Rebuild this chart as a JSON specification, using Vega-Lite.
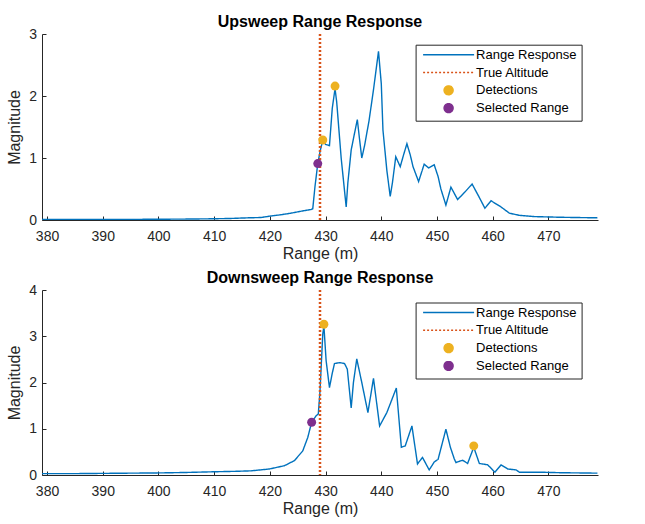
{
  "$schema": "https://vega.github.io/schema/vega-lite/v6.json",
  "padding": {"left": 6, "top": 14, "right": 10, "bottom": 4},
  "datasets": {
    "up": [
      {"r": 379.1, "m": 0.01}, {"r": 385, "m": 0.01}, {"r": 390, "m": 0.01}, {"r": 395, "m": 0.01},
      {"r": 400, "m": 0.012}, {"r": 405, "m": 0.015}, {"r": 410, "m": 0.02}, {"r": 413, "m": 0.025},
      {"r": 416, "m": 0.035}, {"r": 418.4, "m": 0.04}, {"r": 420.2, "m": 0.065}, {"r": 422, "m": 0.085},
      {"r": 423.8, "m": 0.11}, {"r": 425.5, "m": 0.14}, {"r": 427.4, "m": 0.17}, {"r": 427.7, "m": 0.18},
      {"r": 428.1, "m": 0.54}, {"r": 428.6, "m": 0.91}, {"r": 429.0, "m": 1.1}, {"r": 429.5, "m": 1.29},
      {"r": 430.0, "m": 1.22}, {"r": 430.7, "m": 1.2}, {"r": 431.2, "m": 1.8}, {"r": 431.7, "m": 2.12},
      {"r": 432.0, "m": 1.9}, {"r": 432.8, "m": 1.0}, {"r": 433.7, "m": 0.21}, {"r": 434.0, "m": 0.6},
      {"r": 434.6, "m": 1.13}, {"r": 435.2, "m": 1.4}, {"r": 435.7, "m": 1.62}, {"r": 436.1, "m": 1.3},
      {"r": 436.5, "m": 1.0}, {"r": 437.0, "m": 1.2}, {"r": 437.8, "m": 1.6}, {"r": 438.6, "m": 2.1},
      {"r": 439.5, "m": 2.72}, {"r": 440.0, "m": 2.2}, {"r": 440.3, "m": 1.45}, {"r": 441.0, "m": 0.8},
      {"r": 441.6, "m": 0.38}, {"r": 442.0, "m": 0.6}, {"r": 442.6, "m": 1.02}, {"r": 443.4, "m": 0.86},
      {"r": 444.0, "m": 1.05}, {"r": 444.6, "m": 1.23}, {"r": 445.2, "m": 1.05}, {"r": 445.7, "m": 0.86},
      {"r": 446.7, "m": 0.62}, {"r": 447.7, "m": 0.9}, {"r": 448.5, "m": 0.84}, {"r": 449.5, "m": 0.89},
      {"r": 450.2, "m": 0.7}, {"r": 450.7, "m": 0.5}, {"r": 451.6, "m": 0.24}, {"r": 452.5, "m": 0.53},
      {"r": 453.7, "m": 0.33}, {"r": 455.0, "m": 0.45}, {"r": 456.3, "m": 0.58}, {"r": 457.5, "m": 0.38},
      {"r": 458.6, "m": 0.19}, {"r": 459.7, "m": 0.31}, {"r": 461.5, "m": 0.21}, {"r": 463.0, "m": 0.11},
      {"r": 464.8, "m": 0.075}, {"r": 467.5, "m": 0.055}, {"r": 471.7, "m": 0.045}, {"r": 475, "m": 0.04},
      {"r": 478.8, "m": 0.035}
    ],
    "up_marks": [
      {"r": 429.5, "m": 1.29, "series": "Detections"},
      {"r": 431.7, "m": 2.16, "series": "Detections"},
      {"r": 428.6, "m": 0.91, "series": "Selected Range"}
    ],
    "down": [
      {"r": 379.1, "m": 0.03}, {"r": 385, "m": 0.03}, {"r": 390, "m": 0.035}, {"r": 395, "m": 0.04},
      {"r": 400, "m": 0.045}, {"r": 405, "m": 0.055}, {"r": 410, "m": 0.07}, {"r": 414, "m": 0.08},
      {"r": 416.6, "m": 0.09}, {"r": 419.9, "m": 0.13}, {"r": 422.6, "m": 0.2}, {"r": 424.4, "m": 0.31},
      {"r": 425.9, "m": 0.52}, {"r": 426.8, "m": 0.81}, {"r": 427.5, "m": 1.14}, {"r": 428.3, "m": 1.28},
      {"r": 428.7, "m": 1.32}, {"r": 429.0, "m": 1.82}, {"r": 429.5, "m": 3.05}, {"r": 429.7, "m": 3.22},
      {"r": 430.1, "m": 2.47}, {"r": 430.7, "m": 1.89}, {"r": 431.2, "m": 2.2}, {"r": 431.6, "m": 2.41},
      {"r": 432.5, "m": 2.43}, {"r": 433.4, "m": 2.41}, {"r": 433.9, "m": 2.29}, {"r": 434.6, "m": 1.45},
      {"r": 435.0, "m": 2.0}, {"r": 435.6, "m": 2.51}, {"r": 436.5, "m": 2.0}, {"r": 437.6, "m": 1.35},
      {"r": 438.6, "m": 2.09}, {"r": 439.7, "m": 1.06}, {"r": 441.0, "m": 1.35}, {"r": 442.7, "m": 1.88},
      {"r": 443.6, "m": 0.6}, {"r": 444.3, "m": 0.63}, {"r": 445.5, "m": 1.06}, {"r": 446.5, "m": 0.24},
      {"r": 447.4, "m": 0.38}, {"r": 448.6, "m": 0.11}, {"r": 449.5, "m": 0.28}, {"r": 450.2, "m": 0.34},
      {"r": 451.6, "m": 0.99}, {"r": 452.4, "m": 0.6}, {"r": 453.1, "m": 0.35}, {"r": 453.4, "m": 0.27},
      {"r": 454.6, "m": 0.32}, {"r": 455.5, "m": 0.25}, {"r": 456.6, "m": 0.6}, {"r": 457.6, "m": 0.25},
      {"r": 459.1, "m": 0.22}, {"r": 460.4, "m": 0.06}, {"r": 461.5, "m": 0.22}, {"r": 462.7, "m": 0.13},
      {"r": 464.2, "m": 0.11}, {"r": 464.8, "m": 0.06}, {"r": 468.7, "m": 0.06}, {"r": 472, "m": 0.05},
      {"r": 478.8, "m": 0.04}
    ],
    "down_marks": [
      {"r": 429.7, "m": 3.26, "series": "Detections"},
      {"r": 456.6, "m": 0.63, "series": "Detections"},
      {"r": 427.5, "m": 1.14, "series": "Selected Range"}
    ],
    "altitude": [
      {"r": 429}
    ]
  },
  "spacing": 70,
  "bounds": "flush",
  "resolve": {
    "scale": {"color": "independent", "shape": "independent", "size": "independent", "strokeDash": "independent"},
    "legend": {"color": "independent", "shape": "independent", "size": "independent", "strokeDash": "independent"}
  },
  "vconcat": [
    {
      "width": 556,
      "height": 186,
      "title": "Upsweep Range Response",
      "layer": [
        {
          "data": {"name": "up"},
          "mark": {"type": "line", "interpolate": "linear", "strokeWidth": 1.4},
          "encoding": {
            "x": {"field": "r", "type": "quantitative", "scale": {"domain": [379.1, 478.9], "nice": false, "zero": false},
                  "axis": {"title": "Range (m)", "values": [380, 390, 400, 410, 420, 430, 440, 450, 460, 470]}},
            "y": {"field": "m", "type": "quantitative", "scale": {"domain": [0, 3], "nice": false},
                  "axis": {"title": "Magnitude", "values": [0, 1, 2, 3], "format": "d"}},
            "color": {
              "datum": "Range Response", "type": "nominal",
              "scale": {"domain": ["Range Response", "True Altitude", "Detections", "Selected Range"],
                        "range": ["#0072BD", "#D95319", "#EDB120", "#7E2F8E"]},
              "legend": {"title": null, "orient": "none", "legendX": 373.6, "legendY": 10.7}
            },
            "strokeDash": {
              "datum": "Range Response", "type": "nominal",
              "scale": {"domain": ["Range Response", "True Altitude", "Detections", "Selected Range"],
                        "range": [[1, 0], [2, 2], [1, 0], [1, 0]]},
              "legend": {"title": null}
            }
          }
        },
        {
          "data": {"name": "altitude"},
          "mark": {"type": "rule", "strokeWidth": 2.5},
          "encoding": {
            "x": {"field": "r", "type": "quantitative"},
            "color": {"datum": "True Altitude", "type": "nominal"},
            "strokeDash": {"datum": "True Altitude", "type": "nominal"}
          }
        },
        {
          "data": {"name": "up_marks"},
          "mark": {"type": "point", "filled": true, "opacity": 1},
          "encoding": {
            "x": {"field": "r", "type": "quantitative"},
            "y": {"field": "m", "type": "quantitative"},
            "color": {"field": "series", "type": "nominal"},
            "shape": {
              "field": "series", "type": "nominal",
              "scale": {"domain": ["Range Response", "True Altitude", "Detections", "Selected Range"],
                        "range": ["stroke", "stroke", "circle", "circle"]},
              "legend": {"title": null}
            },
            "size": {
              "field": "series", "type": "nominal",
              "scale": {"type": "ordinal", "domain": ["Range Response", "True Altitude", "Detections", "Selected Range"],
                        "range": [2601, 2601, 80, 80]},
              "legend": {"title": null}
            }
          }
        }
      ]
    },
    {
      "width": 556,
      "height": 185,
      "title": "Downsweep Range Response",
      "layer": [
        {
          "data": {"name": "down"},
          "mark": {"type": "line", "interpolate": "linear", "strokeWidth": 1.4},
          "encoding": {
            "x": {"field": "r", "type": "quantitative", "scale": {"domain": [379.1, 478.9], "nice": false, "zero": false},
                  "axis": {"title": "Range (m)", "values": [380, 390, 400, 410, 420, 430, 440, 450, 460, 470]}},
            "y": {"field": "m", "type": "quantitative", "scale": {"domain": [0, 4], "nice": false},
                  "axis": {"title": "Magnitude", "values": [0, 1, 2, 3, 4], "format": "d"}},
            "color": {
              "datum": "Range Response", "type": "nominal",
              "scale": {"domain": ["Range Response", "True Altitude", "Detections", "Selected Range"],
                        "range": ["#0072BD", "#D95319", "#EDB120", "#7E2F8E"]},
              "legend": {"title": null, "orient": "none", "legendX": 373.6, "legendY": 12.5}
            },
            "strokeDash": {
              "datum": "Range Response", "type": "nominal",
              "scale": {"domain": ["Range Response", "True Altitude", "Detections", "Selected Range"],
                        "range": [[1, 0], [2, 2], [1, 0], [1, 0]]},
              "legend": {"title": null}
            }
          }
        },
        {
          "data": {"name": "altitude"},
          "mark": {"type": "rule", "strokeWidth": 2.5},
          "encoding": {
            "x": {"field": "r", "type": "quantitative"},
            "color": {"datum": "True Altitude", "type": "nominal"},
            "strokeDash": {"datum": "True Altitude", "type": "nominal"}
          }
        },
        {
          "data": {"name": "down_marks"},
          "mark": {"type": "point", "filled": true, "opacity": 1},
          "encoding": {
            "x": {"field": "r", "type": "quantitative"},
            "y": {"field": "m", "type": "quantitative"},
            "color": {"field": "series", "type": "nominal"},
            "shape": {
              "field": "series", "type": "nominal",
              "scale": {"domain": ["Range Response", "True Altitude", "Detections", "Selected Range"],
                        "range": ["stroke", "stroke", "circle", "circle"]},
              "legend": {"title": null}
            },
            "size": {
              "field": "series", "type": "nominal",
              "scale": {"type": "ordinal", "domain": ["Range Response", "True Altitude", "Detections", "Selected Range"],
                        "range": [2601, 2601, 80, 80]},
              "legend": {"title": null}
            }
          }
        }
      ]
    }
  ],
  "config": {
    "font": "Liberation Sans",
    "view": {"stroke": null},
    "title": {"fontSize": 16, "fontWeight": "bold", "color": "#000000", "offset": -3, "frame": "group", "font": "Liberation Sans"},
    "legend": {
      "strokeColor": "#262626", "fillColor": "white", "padding": 5,
      "clipHeight": 10, "rowPadding": 4.8, "symbolOffset": 1.5, "symbolStrokeWidth": 1.5,
      "labelOffset": 1, "labelFontSize": 13, "labelColor": "#000000", "labelFont": "Liberation Sans"
    },
    "axis": {
      "grid": false,
      "domainColor": "#262626",
      "domainWidth": 1,
      "tickColor": "#262626",
      "tickSize": -4,
      "labelFontSize": 14,
      "labelColor": "#262626",
      "labelFont": "Liberation Sans",
      "titleFontSize": 16,
      "titleFontWeight": "normal",
      "titleColor": "#262626",
      "titleFont": "Liberation Sans",
      "labelFlush": false,
      "labelOverlap": false
    },
    "axisX": {"titlePadding": 2, "labelPadding": 13},
    "axisY": {"titlePadding": 6, "labelPadding": 9.5}
  }
}
